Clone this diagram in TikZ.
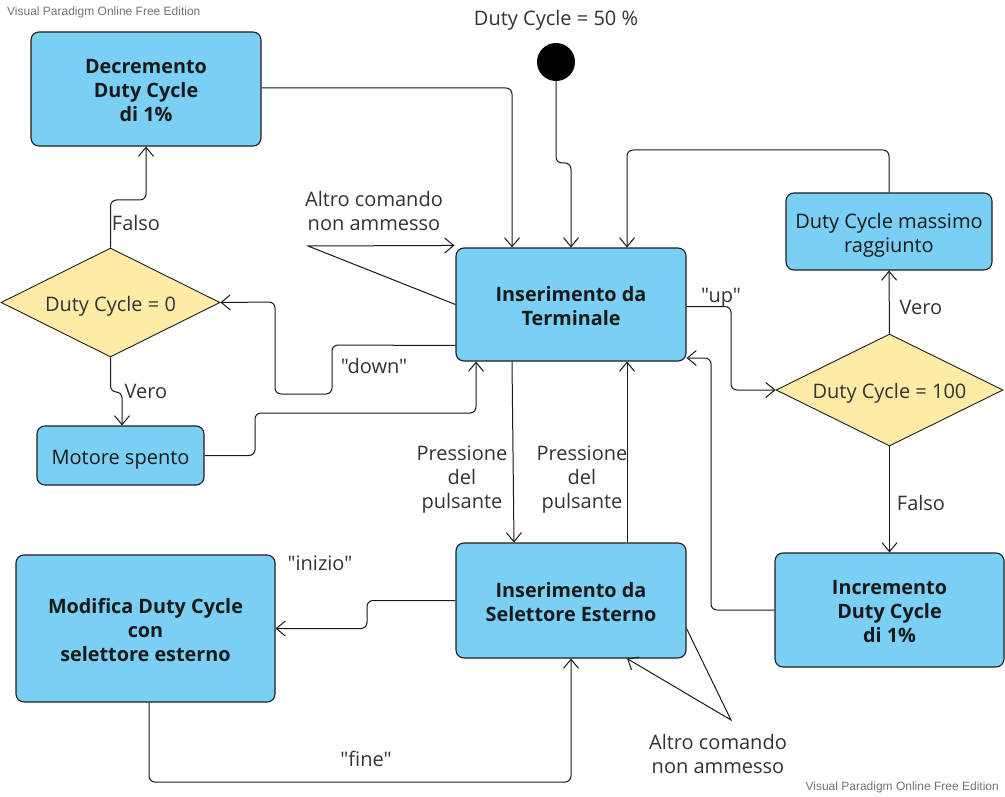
\documentclass[tikz,border=0pt]{standalone}
\usepackage{fontspec}
\setmainfont{Open Sans}[Ligatures=TeXOff]
\newfontfamily\wmfont{Liberation Sans}
\usetikzlibrary{shapes.geometric,arrows.meta,calc}
\definecolor{boxblue}{HTML}{7ACFF5}
\definecolor{diayellow}{HTML}{FDEBA6}
\definecolor{edgeline}{HTML}{1E1E1E}
\definecolor{labgray}{HTML}{333333}
\newcommand{\dn}[1]{\raisebox{-4pt}[\height][\depth]{\begin{tabular}{@{}c@{}}#1\end{tabular}}}
\tikzset{
  base/.style={font=\fontsize{20}{24}\selectfont},
  statebox/.style={base, draw=edgeline, line width=1.1pt, fill=boxblue, rounded corners=8pt, inner sep=0pt, text=black!90},
  boldbox/.style={statebox, font=\fontsize{19.8}{24}\selectfont\bfseries},
  decision/.style={base, diamond, aspect=2, draw=edgeline, line width=0.9pt, fill=diayellow, inner sep=0pt, text=labgray},
  lab/.style={base, text=labgray, inner sep=0pt},
  arr/.style={draw=black!90, line width=1pt, rounded corners=6pt, -{Straight Barb[length=9pt,width=15pt,line width=1pt]}},
  wm/.style={font=\wmfont\fontsize{12}{14}\selectfont, text=black!55, inner sep=0pt}
}
\begin{document}
\begin{tikzpicture}[x=1pt,y=-1pt]
\useasboundingbox (0,0) rectangle (1005,797);
\fill[white] (0,0) rectangle (1005,797);

% watermarks
\node[wm, anchor=west] (wm1) at (7,12) {Visual Paradigm Online Free Edition};
\node[wm, anchor=east] (wm2) at (999,787) {Visual Paradigm Online Free Edition};

% nodes
\node[boldbox, minimum width=230pt, minimum height=114pt] (dec) at (146,89) {\dn{Decremento\\Duty Cycle\\di 1\%}};
\node[lab] (initlab) at (556,17) {\dn{Duty Cycle = 50 \%}};
\node[circle, fill=black, minimum size=38pt, inner sep=0pt] (start) at (556,62) {};
\node[boldbox, minimum width=230pt, minimum height=113pt] (term) at (571,304.5) {\dn{Inserimento da\\Terminale}};
\node[statebox, minimum width=206pt, minimum height=77pt] (max) at (889,231.5) {\dn{Duty Cycle massimo\\raggiunto}};
\node[decision, minimum width=219pt, minimum height=109pt] (d0) at (110.5,302.5) {\dn{Duty Cycle = 0}};
\node[decision, minimum width=227pt, minimum height=112pt] (d100) at (889.5,390) {\dn{Duty Cycle = 100}};
\node[statebox, minimum width=167pt, minimum height=59pt] (motor) at (120.5,455.5) {\dn{Motore spento}};
\node[boldbox, minimum width=230pt, minimum height=115pt] (sel) at (571,600.5) {\dn{Inserimento da\\Selettore Esterno}};
\node[boldbox, minimum width=229pt, minimum height=114pt] (inc) at (889.5,610) {\dn{Incremento\\Duty Cycle\\di 1\%}};
\node[boldbox, minimum width=259pt, minimum height=147pt] (mod) at (145.5,628.5) {\dn{Modifica Duty Cycle\\con\\selettore esterno}};

% labels
\node[lab] (l1) at (374,210) {\dn{Altro comando\\non ammesso}};
\node[lab] (l2) at (374,365) {\dn{"down"}};
\node[lab] (l3) at (721,294) {\dn{"up"}};
\node[lab] (l4) at (136,222) {\dn{Falso}};
\node[lab] (l5) at (146,390) {\dn{Vero}};
\node[lab] (l6) at (921,306) {\dn{Vero}};
\node[lab] (l7) at (921,502) {\dn{Falso}};
\node[lab] (l8) at (462,476) {\dn{Pressione\\del\\pulsante}};
\node[lab] (l9) at (582,476) {\dn{Pressione\\del\\pulsante}};
\node[lab] (l10) at (320,562) {\dn{"inizio"}};
\node[lab] (l11) at (366,758) {\dn{"fine"}};
\node[lab] (l12) at (718,753) {\dn{Altro comando\\non ammesso}};

% connectors
\draw[arr] ([yshift=1pt]dec.east) -| ([xshift=-59pt]term.north);
\draw[arr] (start.south) -- (556,163) -| (term.north);
\draw[arr] (max.north) -- (889,150) -| ([xshift=56pt]term.north);
\draw[arr, rounded corners=0pt] (term.west) -- (308,246) -- ([xshift=-1pt,yshift=2pt]term.north west);
\draw[arr] ([yshift=-41pt]term.west) -- (332,345) -- (332,394) -- (275,394) -- (275,302) -- (d0.east);
\draw[arr] (d0.north) -- (110.5,200) -| (dec.south);
\draw[arr] (d0.south) -- (110.5,392) -| ([xshift=1.5pt]motor.north);
\draw[arr] (motor.east) -- (255,455.5) -- (255,413) -| ([xshift=-95pt]term.south);
\draw[arr] ([yshift=-2pt]term.east) -- (731,306.5) |- (d100.west);
\draw[arr] (d100.north) -- (max.south);
\draw[arr] (d100.south) -- (inc.north);
\draw[arr] (inc.west) -- (711,610) |- ([yshift=-53.5pt]term.east);
\draw[arr] ([xshift=-59pt]term.south) -- ([xshift=-57pt]sel.north);
\draw[arr] ([xshift=56pt]sel.north) -- ([xshift=56pt]term.south);
\draw[arr] (sel.west) -- (367,600.5) |- (mod.east);
\draw[arr] ([xshift=3.5pt]mod.south) -- (149,782) -| (sel.south);
\draw[arr, rounded corners=0pt] ([yshift=-28pt]sel.east) -- (731,720) -- ([xshift=56pt]sel.south);
\end{tikzpicture}
\end{document}
